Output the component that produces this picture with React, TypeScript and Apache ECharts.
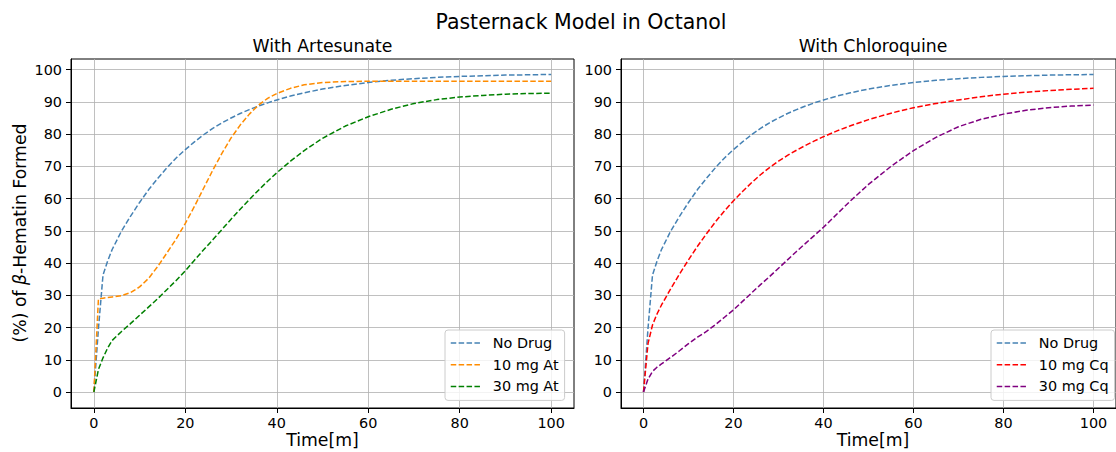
import React, { useEffect, useRef } from 'react';
import * as echarts from 'echarts';

const TIME = [0, 1, 2, 3, 4, 6, 8, 10, 12, 14, 16, 18, 20, 22, 24, 26, 28, 30, 32, 34, 36, 38, 40, 43, 46, 50, 55, 60, 65, 70, 75, 80, 85, 90, 95, 100];

const NO_DRUG = [0, 19.7, 36.3, 40.6, 44.2, 49.8, 54.5, 58.8, 62.8, 66.3, 69.6, 72.6, 75.2, 77.6, 79.8, 81.8, 83.5, 85.0, 86.4, 87.6, 88.7, 89.7, 90.6, 91.8, 92.8, 94.0, 95.1, 96.0, 96.7, 97.2, 97.6, 97.9, 98.1, 98.3, 98.4, 98.5];
const AT_10 = [0, 28.9, 29.1, 29.3, 29.5, 29.9, 30.8, 32.6, 35.3, 39.0, 43.2, 47.5, 52.3, 57.6, 63.2, 68.8, 74.0, 78.8, 82.8, 86.2, 89.0, 91.1, 92.6, 94.2, 95.3, 96.0, 96.3, 96.4, 96.4, 96.4, 96.4, 96.4, 96.4, 96.4, 96.4, 96.4];
const AT_30 = [0, 7.0, 10.6, 13.6, 16.0, 18.7, 21.2, 23.8, 26.4, 29.0, 31.8, 34.6, 37.6, 40.9, 44.1, 47.2, 50.4, 53.6, 56.7, 59.7, 62.6, 65.4, 68.0, 71.6, 74.9, 78.7, 82.5, 85.4, 87.7, 89.5, 90.7, 91.5, 92.0, 92.4, 92.6, 92.7];
const CQ_10 = [0, 15.0, 20.8, 24.2, 27.0, 31.9, 36.6, 41.0, 45.2, 49.1, 52.8, 56.2, 59.3, 62.2, 64.9, 67.4, 69.6, 71.6, 73.4, 75.0, 76.5, 77.9, 79.2, 81.0, 82.6, 84.5, 86.5, 88.2, 89.5, 90.6, 91.6, 92.4, 93.0, 93.5, 93.9, 94.2];
const CQ_30 = [0, 4.0, 6.4, 7.7, 8.7, 10.7, 12.8, 15.0, 17.0, 18.8, 20.9, 23.2, 25.5, 28.1, 30.7, 33.3, 35.8, 38.4, 41.0, 43.6, 46.1, 48.6, 51.1, 55.2, 59.3, 64.4, 70.0, 74.9, 79.0, 82.3, 84.6, 86.2, 87.4, 88.2, 88.7, 89.0];

const X_TICKS = [0, 20, 40, 60, 80, 100];
const Y_TICKS = [0, 10, 20, 30, 40, 50, 60, 70, 80, 90, 100];

const SUPTITLE = 'Pasternack Model in Octanol';
const TITLES = ['With Artesunate', 'With Chloroquine'];
const X_LABEL = 'Time[m]';
const LEGEND_LEFT = ['No Drug', '10 mg At', '30 mg At'];
const LEGEND_RIGHT = ['No Drug', '10 mg Cq', '30 mg Cq'];

const FONT = 'DejaVu Sans';
const DASH = [5.5, 2.4];

const pairs = (vals: number[]) => TIME.map((t, i) => [t, vals[i]]);

export default function App() {
  const ref = useRef<HTMLDivElement>(null);
  useEffect(() => {
    if (!ref.current) return;
    const chart = echarts.init(ref.current, null, { renderer: 'svg' });
    const grids = [
      { left: 71, top: 59, width: 503, height: 349 },
      { left: 621, top: 59, width: 504, height: 349 },
    ];
    const xAxis = grids.map((_, i) => ({
      type: 'value',
      gridIndex: i,
      min: -5,
      max: 105,
      axisLine: { show: true, onZero: false, lineStyle: { color: '#000', width: 1 } },
      axisTick: { show: true, length: 5, lineStyle: { color: '#000', width: 1 }, customValues: X_TICKS },
      axisLabel: { color: '#000', fontSize: 14.4, fontFamily: FONT, margin: 8, customValues: X_TICKS },
      splitLine: { show: true, lineStyle: { color: '#b0b0b0', width: 0.8 } },
    }));
    const yAxis = grids.map((_, i) => ({
      type: 'value',
      gridIndex: i,
      min: -4.96,
      max: 103.3,
      axisLine: { show: true, onZero: false, lineStyle: { color: '#000', width: 1 } },
      axisTick: { show: true, length: 5, lineStyle: { color: '#000', width: 1 }, customValues: Y_TICKS },
      axisLabel: { color: '#000', fontSize: 14.4, fontFamily: FONT, margin: 9, customValues: Y_TICKS },
      splitLine: { show: true, lineStyle: { color: '#b0b0b0', width: 0.8 } },
    }));
    const mk = (name: string, vals: number[], color: string, idx: number) => ({
      type: 'line',
      name,
      xAxisIndex: idx,
      yAxisIndex: idx,
      data: pairs(vals),
      symbol: 'none',
      showSymbol: false,
      lineStyle: { color, width: 1.5, type: DASH },
      itemStyle: { color },
      z: 3,
    });
    const legendCommon = {
      orient: 'vertical',
      top: 330,
      itemWidth: 30,
      itemHeight: 14,
      itemGap: 5.7,
      padding: [5, 6, 6, 5],
      backgroundColor: 'rgba(255,255,255,0.8)',
      borderColor: '#cccccc',
      borderWidth: 1,
      borderRadius: 3,
      itemStyle: { color: 'transparent', borderColor: 'transparent', borderWidth: 0, opacity: 0 },
      lineStyle: { width: 1.5, type: DASH },
      textStyle: { fontSize: 14.4, fontFamily: FONT, color: '#000', lineHeight: 16, padding: [0, 0, 0, 7] },
      z: 10,
    };
    chart.setOption({
      animation: false,
      backgroundColor: '#fff',
      grid: grids.map((g) => ({ ...g, show: true, borderColor: '#000', borderWidth: 1, backgroundColor: 'transparent' })),
      xAxis,
      yAxis,
      legend: [
        { ...legendCommon, left: 445, data: LEGEND_LEFT },
        { ...legendCommon, left: 991, data: LEGEND_RIGHT },
      ],
      series: [
        mk('No Drug', NO_DRUG, '#4682b4', 0),
        mk('10 mg At', AT_10, '#ff8c00', 0),
        mk('30 mg At', AT_30, '#008000', 0),
        mk('No Drug', NO_DRUG, '#4682b4', 1),
        mk('10 mg Cq', CQ_10, '#ff0000', 1),
        mk('30 mg Cq', CQ_30, '#800080', 1),
      ],
      graphic: [
        { type: 'text', x: 581, y: 22, style: { text: SUPTITLE, fontSize: 20.5, fontFamily: FONT, fill: '#000', align: 'center', verticalAlign: 'middle' } },
        { type: 'text', x: 322.5, y: 46, style: { text: TITLES[0], fontSize: 17.3, fontFamily: FONT, fill: '#000', align: 'center', verticalAlign: 'middle' } },
        { type: 'text', x: 873, y: 46, style: { text: TITLES[1], fontSize: 17.3, fontFamily: FONT, fill: '#000', align: 'center', verticalAlign: 'middle' } },
        { type: 'text', x: 322.5, y: 440, style: { text: X_LABEL, fontSize: 17.3, fontFamily: FONT, fill: '#000', align: 'center', verticalAlign: 'middle' } },
        { type: 'text', x: 873, y: 440, style: { text: X_LABEL, fontSize: 17.3, fontFamily: FONT, fill: '#000', align: 'center', verticalAlign: 'middle' } },
        {
          type: 'text', x: 20, y: 233, rotation: Math.PI / 2,
          style: {
            text: '(%) of {i|β}-Hematin Formed',
            fontSize: 17.3, fontFamily: FONT, fill: '#000', align: 'center', verticalAlign: 'middle',
            rich: { i: { fontStyle: 'italic', fontSize: 17.3, fontFamily: FONT, fill: '#000' } },
          },
        },
      ],
    });
    return () => chart.dispose();
  }, []);
  return <div ref={ref} style={{ position: 'fixed', left: 0, top: 0, width: 1116, height: 452 }} />;
}
